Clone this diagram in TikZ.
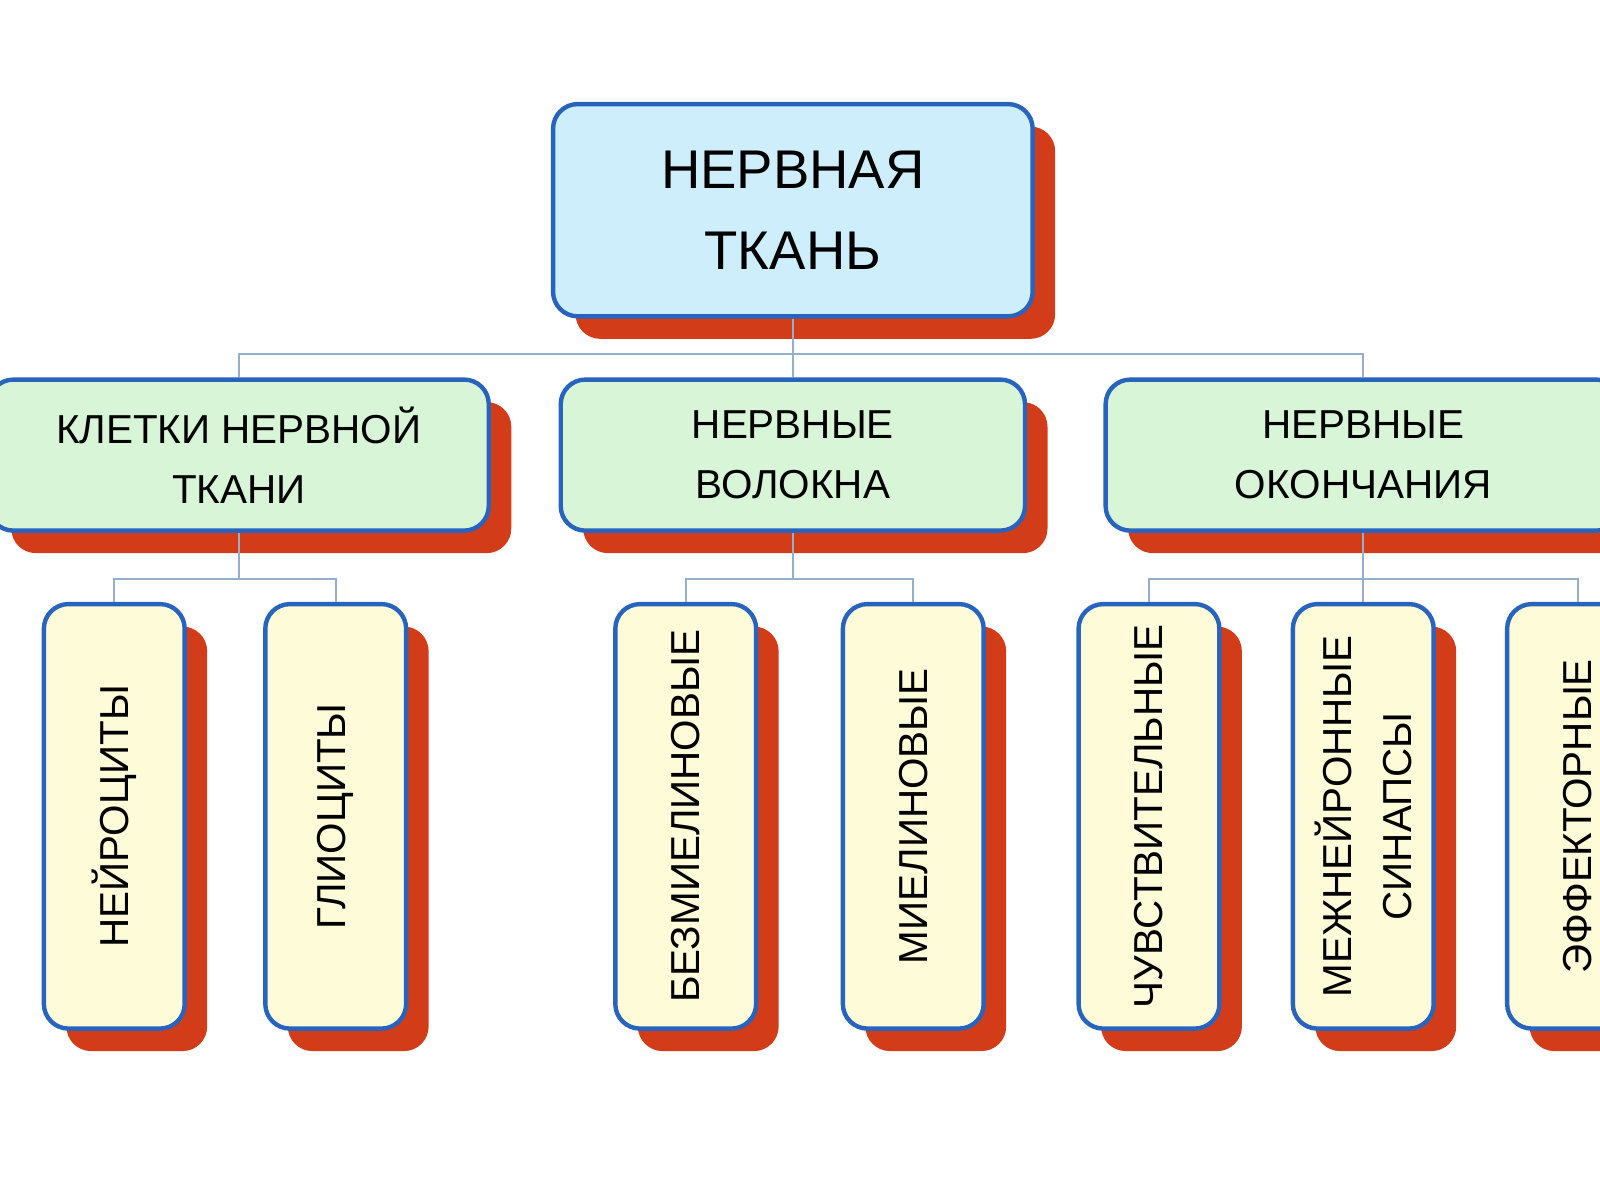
\documentclass[tikz,border=0pt]{standalone}
\usepackage{fontspec}
\setmainfont{Liberation Sans}
\usetikzlibrary{shadows}
\definecolor{BoxBlue}{RGB}{40, 100, 190}
\definecolor{ShadowRed}{RGB}{210, 60, 25}
\definecolor{TopFill}{RGB}{205, 238, 250}
\definecolor{MidFill}{RGB}{216, 245, 216}
\definecolor{LeafFill}{RGB}{253, 251, 216}
\definecolor{LinkGray}{RGB}{150, 175, 200}
\begin{document}
\begin{tikzpicture}[x=0.0204cm, y=-0.0204cm]
    \tikzset{
        box/.style={rectangle, rounded corners=14pt, draw=BoxBlue, line width=2.5pt, align=center,
            drop shadow={shadow xshift=0.45cm, shadow yshift=-0.45cm, fill=ShadowRed, opacity=1}},
        top/.style={box, fill=TopFill, minimum width=470*0.0204cm, minimum height=208*0.0204cm, font=\fontsize{31}{46}\selectfont},
        mid/.style={box, fill=MidFill, minimum height=148*0.0204cm, font=\fontsize{23}{34}\selectfont},
        leaf/.style={box, fill=LeafFill, minimum width=138*0.0204cm, minimum height=416*0.0204cm},
        vtext/.style={rotate=90, font=\fontsize{23}{34}\selectfont, align=center},
        link/.style={draw=LinkGray, line width=1.2pt}
    }
    \useasboundingbox (0,0) rectangle (1568,1170);
    \clip (0,0) rectangle (1568,1170);

    % Уровни
    \node (tissue) [top] at (777,206) {НЕРВНАЯ\\ТКАНЬ};
    \node (cells) [mid, minimum width=490*0.0204cm] at (234,446) {КЛЕТКИ НЕРВНОЙ\\ТКАНИ};
    \node (fibres) [mid, minimum width=455*0.0204cm] at (777,446) {НЕРВНЫЕ\\ВОЛОКНА};
    \node (ends) [mid, minimum width=505*0.0204cm] at (1336,446) {НЕРВНЫЕ\\ОКОНЧАНИЯ};

    \node (neuro) [leaf] at (112,800) {};
    \node (glio) [leaf] at (329,800) {};
    \node (bezm) [leaf] at (672,800) {};
    \node (miel) [leaf] at (895,800) {};
    \node (chuv) [leaf] at (1126,800) {};
    \node (mezh) [leaf] at (1336,800) {};
    \node (eff) [leaf] at (1546,800) {};

    \node [vtext] at (neuro) {НЕЙРОЦИТЫ};
    \node [vtext] at (glio) {ГЛИОЦИТЫ};
    \node [vtext] at (bezm) {БЕЗМИЕЛИНОВЫЕ};
    \node [vtext] at (miel) {МИЕЛИНОВЫЕ};
    \node [vtext] at (chuv) {ЧУВСТВИТЕЛЬНЫЕ};
    \node [vtext] at (mezh) {МЕЖНЕЙРОННЫЕ\\СИНАПСЫ};
    \node [vtext] at (eff) {ЭФФЕКТОРНЫЕ};

    % Связи
    \draw [link] (tissue.south) -- ++(0,35) -| (cells.north);
    \draw [link] (tissue.south) -- (fibres.north);
    \draw [link] (tissue.south) -- ++(0,35) -| (ends.north);
    \foreach \p/\c in {cells/neuro, cells/glio, fibres/bezm, fibres/miel, ends/chuv, ends/mezh, ends/eff}
        \draw [link] (\p.south) -- ++(0,45) -| (\c.north);
\end{tikzpicture}
\end{document}
